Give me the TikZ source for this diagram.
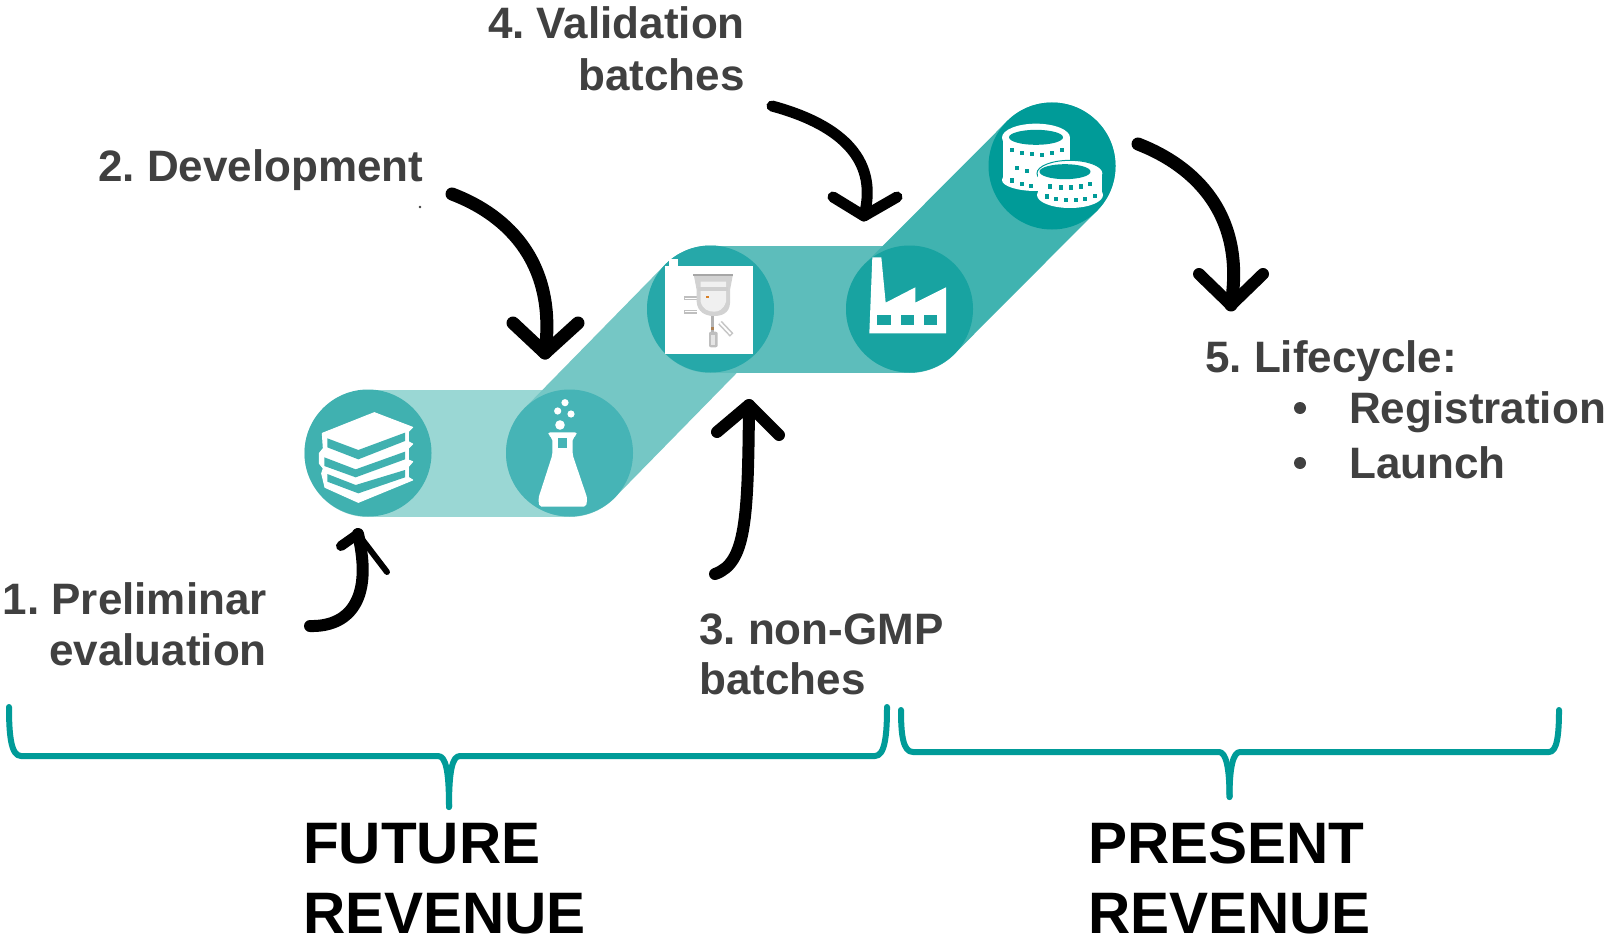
\documentclass[tikz,border=0pt]{standalone}
\usepackage{fontspec}
\setmainfont{Liberation Sans}
\frenchspacing
\definecolor{bandA}{HTML}{9AD7D4}
\definecolor{bandB}{HTML}{75C7C5}
\definecolor{bandC}{HTML}{5DBDBB}
\definecolor{bandD}{HTML}{40B3B0}
\definecolor{hubA}{HTML}{40B1B0}
\definecolor{hubB}{HTML}{46B4B6}
\definecolor{hubC}{HTML}{26A8A9}
\definecolor{hubD}{HTML}{18A3A1}
\definecolor{hubE}{HTML}{009B98}
\definecolor{labelgrey}{HTML}{404040}
\definecolor{bracketteal}{HTML}{009B98}
\tikzset{
  band/.style={line width=127pt,line cap=round},
  hub/.style={circle,minimum size=127pt,inner sep=0pt,draw=none},
  sketch/.style={black,line width=12pt,line cap=round,line join=round},
  wings/.style={black,line width=12pt,line cap=round,line join=round},
  steplabel/.style={inner sep=0pt,text=labelgrey,font=\fontsize{44}{50}\selectfont\bfseries},
  revlabel/.style={inner sep=0pt,text=black,anchor=base west,font=\fontsize{58.5}{70}\selectfont\bfseries},
  brace/.style={bracketteal,line width=6pt,line cap=round,line join=round},
  zoomA/.style={shift={(290,370)},x=0.33333pt,y=-0.33333pt},
  zoomB/.style={shift={(640,230)},x=0.33333pt,y=-0.33333pt},
  zoomC/.style={shift={(970,90)},x=0.33333pt,y=-0.33333pt}
}
\begin{document}
\begin{tikzpicture}[x=1pt,y=-1pt]
\useasboundingbox (0,0) rectangle (1613,944);
\fill[white] (0,0) rectangle (1613,944);
% hub positions
\coordinate (pBook) at (368,453);
\coordinate (pFlask) at (569.5,453);
\coordinate (pReactor) at (710.5,309);
\coordinate (pFactory) at (909.5,309);
\coordinate (pCoins) at (1052,166);
% bands
\draw[band,bandA] (pBook) -- (pFlask);
\draw[band,bandB] (pFlask) -- (pReactor);
\draw[band,bandC] (pReactor) -- (pFactory);
\draw[band,bandD] (pFactory) -- (pCoins);
% hubs
\node[hub,fill=hubA] (book) at (pBook) {};
\node[hub,fill=hubB] (flask) at (pFlask) {};
\node[hub,fill=hubC] (reactor) at (pReactor) {};
\node[hub,fill=hubD] (factory) at (pFactory) {};
\node[hub,fill=hubE] (coins) at (pCoins) {};
% book icon
\begin{scope}[zoomA]
\fill[white,draw=white,line width=1pt,line join=round] (253,128)--(368,172)--(355,185)--(355,215)--(368,222)--(355,235)--(355,270)--(368,275)--(355,290)--(355,322)--(368,330)--(205,397)--(105,352)--(95,310)--(100,295)--(88,280)--(88,250)--(100,235)--(97,190)--cycle;
\fill[hubA] (112,205)--(205,240)--(345,188)--(345,213)--(205,268)--(112,232)--cycle;
\fill[hubA] (103,262)--(197,298)--(345,245)--(345,268)--(197,322)--(103,288)--cycle;
\fill[hubA] (112,312)--(197,345)--(345,300)--(345,322)--(205,370)--(112,335)--cycle;
% flask icon
\fill[white,rounded corners=2pt] (775,187)--(860,187)--(860,195)--(848,205)--(848,255)--(892,385)--(888,410)--(748,410)--(745,385)--(787,255)--(787,205)--(775,195)--cycle;
\fill[hubB] (803,203) rectangle (832,235);
\fill[white] (810,165) circle[radius=4.8pt];
\fill[white] (803,123) circle[radius=3.6pt];
\fill[white] (843,132) circle[radius=3.6pt];
\fill[white] (825,98) circle[radius=3.6pt];
\end{scope}
% reactor picture
\begin{scope}[zoomB]
\fill[white] (75,108) rectangle (338,373);
\fill[white] (87,87) rectangle (115,108);
% side ports
\draw[gray!50,line width=4pt] (132,205)--(172,205);
\draw[gray!50,line width=4pt] (132,245)--(172,245);
\draw[white,line width=1.5pt] (134,205)--(170,205);
\draw[white,line width=1.5pt] (134,245)--(170,245);
% vessel
\fill[gray!35] (162,138)--(278,138)--(270,180)--(270,220) .. controls (268,250) and (245,258) .. (222,258) .. controls (195,258) and (172,245) .. (170,215)--(170,180)--cycle;
\fill[gray!12] (182,155) -- (258,155) -- (258,215) .. controls (250,240) and (235,245) .. (222,245) .. controls (205,245) and (188,238) .. (182,215) -- cycle;
\fill[gray!38] (175,170) rectangle (265,182);
\draw[gray!70,line width=1.8pt] (160,136)--(280,136);
\draw[gray!60,line width=3.5pt] (217,258)--(217,305);
\draw[gray!45,line width=5pt] (240,278)--(275,315);
\draw[white,line width=1.8pt] (240,278)--(272,312);
\fill[gray!50,rounded corners=2pt] (207,305) rectangle (233,352);
\fill[gray!20] (213,315) rectangle (226,345);
\fill[orange!70!gray] (198,197) rectangle (208,204);
\fill[brown!70!gray] (212,290) rectangle (222,300);
% factory
\fill[white] (688,310)--(697,82)--(724,82)--(737,218)--(826,172)--(826,218)--(918,172)--(918,310)--cycle;
\fill[hubD] (712,256) rectangle (752,286);
\fill[hubD] (782,256) rectangle (823,286);
\fill[hubD] (851,256) rectangle (891,286);
\end{scope}
% coins
\begin{scope}[zoomC]
\fill[white] (98,143) rectangle (300,270);
\fill[white] (198,143) ellipse[x radius=34pt,y radius=14pt];
\fill[white] (198,270) ellipse[x radius=34pt,y radius=11pt];
\fill[white,draw=hubE,line width=1pt] (300,250) ellipse[x radius=33pt,y radius=13pt];
\fill[white] (203,250) rectangle (397,315);
\fill[white] (300,315) ellipse[x radius=33pt,y radius=13pt];
\fill[hubE] (198,142) ellipse[x radius=27pt,y radius=7.5pt];
\fill[hubE] (285,245) ellipse[x radius=25.5pt,y radius=7.5pt];
\foreach \u/\v in {125/180,155/190,185/193,215/195,245/190,275/180,140/235,170/243,125/272,155/283,183/288,240/290,272/293,302/293,332/290,360/283,230/320,258/327,288/330,318/330,345/327,375/318}
  \fill[hubE] (\u-6.5,\v-6.5) rectangle (\u+6.5,\v+6.5);
\end{scope}
% labels
\node[steplabel,anchor=base east] (lone) at (267,614) {1. Preliminar};
\node[steplabel,anchor=base east] (loneb) at (267,665) {evaluation};
\node[steplabel,anchor=base west] (ltwo) at (98,182) {2. Development};
\fill[labelgrey] (420,207) circle[radius=1.4pt];
\node[steplabel,anchor=base west] (lthree) at (699,644) {3. non-GMP};
\node[steplabel,anchor=base west] (lthreeb) at (699,694) {batches};
\node[steplabel,anchor=base east] (lfour) at (745,39) {4. Validation};
\node[steplabel,anchor=base east] (lfourb) at (745,91) {batches};
\node[steplabel,anchor=base west] (lfive) at (1205,372) {5. Lifecycle:};
\node[steplabel,anchor=base west] (lreg) at (1349,423) {Registration};
\node[steplabel,anchor=base west] (llau) at (1349,478) {Launch};
\fill[labelgrey] (1300,408) circle[radius=6pt];
\fill[labelgrey] (1300,463) circle[radius=6pt];
% arrows
\coordinate (aOneS) at (310,626); \coordinate (aOneT) at (358,534);
\draw[sketch] (aOneS) .. controls (347,627) and (374,602) .. (aOneT);
\draw[wings,line width=10pt] (341,546)--(aOneT);
\draw[wings,line width=6pt] (aOneT)--(387,572);
\coordinate (aTwoS) at (452,194); \coordinate (aTwoT) at (545,353);
\draw[sketch,line width=13pt] (aTwoS) .. controls (510,216) and (557,265) .. (aTwoT);
\draw[wings,line width=13pt] (513,323)--(aTwoT)--(578,323);
\coordinate (aThreeS) at (715,574); \coordinate (aThreeT) at (749,405);
\draw[sketch] (aThreeS) .. controls (746,563) and (748,520) .. (aThreeT);
\draw[wings] (717,432)--(aThreeT)--(779,435);
\coordinate (aFourS) at (772,106); \coordinate (aFourT) at (864,216);
\draw[sketch,line width=11pt] (aFourS) .. controls (835,123) and (880,156) .. (aFourT);
\draw[wings,line width=11pt] (833,197)--(aFourT)--(897,197);
\coordinate (aFiveS) at (1138,144); \coordinate (aFiveT) at (1231,305);
\draw[sketch,line width=13pt] (aFiveS) .. controls (1195,166) and (1246,215) .. (aFiveT);
\draw[wings,line width=12pt] (1199,274)--(aFiveT)--(1263,274);
% braces
\coordinate (bOneL) at (9,707); \coordinate (bOneR) at (887,707); \coordinate (bOneA) at (449,807);
\draw[brace] (bOneL) .. controls (9,735) and (11,756) .. (21,756) -- (438,756) .. controls (446,756) and (449,772) .. (bOneA);
\draw[brace] (bOneR) .. controls (887,735) and (885,756) .. (875,756) -- (460,756) .. controls (452,756) and (449,772) .. (bOneA);
\coordinate (bTwoL) at (901,710); \coordinate (bTwoR) at (1559,710); \coordinate (bTwoA) at (1229.5,797);
\draw[brace] (bTwoL) .. controls (901,735) and (903,752) .. (913,752) -- (1219,752) .. controls (1226,752) and (1229.5,768) .. (bTwoA);
\draw[brace] (bTwoR) .. controls (1559,735) and (1557,752) .. (1549,752) -- (1240,752) .. controls (1233,752) and (1229.5,768) .. (bTwoA);
% revenue labels
\node[revlabel] (fut) at (303,863) {FUTURE};
\node[revlabel] (futb) at (303,933) {REVENUE};
\node[revlabel] (pre) at (1088,863) {PRESENT};
\node[revlabel] (preb) at (1088,933) {REVENUE};
\end{tikzpicture}
\end{document}
